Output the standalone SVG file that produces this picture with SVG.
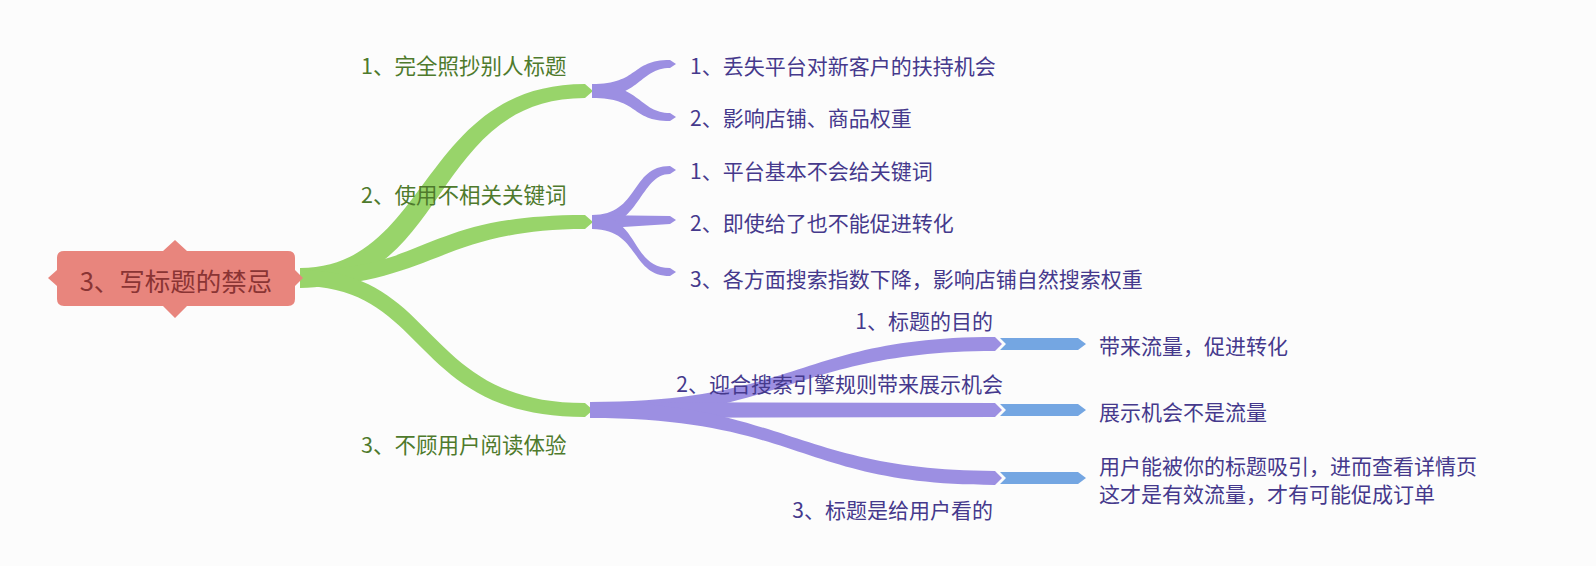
<svg xmlns="http://www.w3.org/2000/svg" width="1596" height="566" viewBox="0 0 1596 566">
<style>
text{font-family:"Noto Sans CJK SC","Noto Sans",sans-serif;font-size:21px;dominant-baseline:central}
.g{fill:#98D46A}.p{fill:#9C8FE2}.b{fill:#74A6E2}
.gt{fill:#4E7A2C;font-size:21.5px}.pt{fill:#45398C}
</style>
<rect width="1596" height="566" fill="#FCFCFC"/>
<g id="connectors">
<path class="g" d="M300,268 C430,268 420,84 585,84 L593,91 L585,98 C430,98 450,288 300,288 Z"/>
<path class="g" d="M300,270 C430,270 420,215 585,215 L593,222 L585,229 C440,229 430,286 300,286 Z"/>
<path class="g" d="M300,270 C440,270 420,403 585,403 L593,410 L585,417 C410,417 430,286 300,286 Z"/>
<path class="p" d="M592,84 C640,84 630,60 670,60 L676,64 L670,68 C640,68 640,98 592,98 Z"/>
<path class="p" d="M592,84 C640,84 640,113 670,113 L676,117 L670,121 C630,121 640,98 592,98 Z"/>
<path class="p" d="M592,215 C640,215 630,166 670,166 L676,170 L670,174 C640,174 640,229 592,229 Z"/>
<path class="p" d="M592,215 L670,216 L676,220 L670,224 L592,229 Z"/>
<path class="p" d="M592,215 C640,215 630,268 670,268 L676,272 L670,276 C630,276 640,229 592,229 Z"/>
<path class="p" d="M590,402 C800,402 800,337 995,337 L1002,344 L995,351 C800,351 780,418 590,418 Z"/>
<path class="p" d="M590,402 L995,403 L1002,410 L995,417 L590,418 Z"/>
<path class="p" d="M590,402 C780,402 800,471 995,471 L1002,478 L995,485 C800,485 800,418 590,418 Z"/>
<path class="b" d="M1000,338 L1078,338 L1086,344 L1078,350 L1000,350 L1006,344 Z"/>
<path class="b" d="M1000,404 L1078,404 L1086,410 L1078,416 L1000,416 L1006,410 Z"/>
<path class="b" d="M1000,472 L1078,472 L1086,478 L1078,484 L1000,484 L1006,478 Z"/>
</g>
<g id="root">
<path d="M175,240 L187,251 L288,251 Q295,251 295,258 L295,270 L303,278 L295,286 L295,299 Q295,306 288,306 L187,306 L175,318 L163,306 L64,306 Q57,306 57,299 L57,286 L48,278 L57,270 L57,258 Q57,251 64,251 L163,251 Z" fill="#E8857D"/>
<text x="176" y="279" text-anchor="middle" style="font-size:25.5px;fill:#8A3434">3、写标题的禁忌</text>
</g>
<g id="n1"><text class="gt" x="361" y="64">1、完全照抄别人标题</text></g>
<g id="n2"><text class="gt" x="361" y="193">2、使用不相关关键词</text></g>
<g id="n3"><text class="gt" x="361" y="443">3、不顾用户阅读体验</text></g>
<g id="n11"><text class="pt" x="690" y="65">1、丢失平台对新客户的扶持机会</text></g>
<g id="n12"><text class="pt" x="690" y="117">2、影响店铺、商品权重</text></g>
<g id="n21"><text class="pt" x="690" y="170">1、平台基本不会给关键词</text></g>
<g id="n22"><text class="pt" x="690" y="222">2、即使给了也不能促进转化</text></g>
<g id="n23"><text class="pt" x="690" y="278">3、各方面搜索指数下降，影响店铺自然搜索权重</text></g>
<g id="n31"><text class="pt" x="993" y="320" text-anchor="end">1、标题的目的</text></g>
<g id="n32"><text class="pt" x="1003" y="383" text-anchor="end">2、迎合搜索引擎规则带来展示机会</text></g>
<g id="n33"><text class="pt" x="993" y="509" text-anchor="end">3、标题是给用户看的</text></g>
<g id="n311"><text class="pt" x="1099" y="345">带来流量，促进转化</text></g>
<g id="n321"><text class="pt" x="1099" y="411">展示机会不是流量</text></g>
<g id="n331"><text class="pt" x="1099" y="465">用户能被你的标题吸引，进而查看详情页</text><text class="pt" x="1099" y="493">这才是有效流量，才有可能促成订单</text></g>
</svg>
